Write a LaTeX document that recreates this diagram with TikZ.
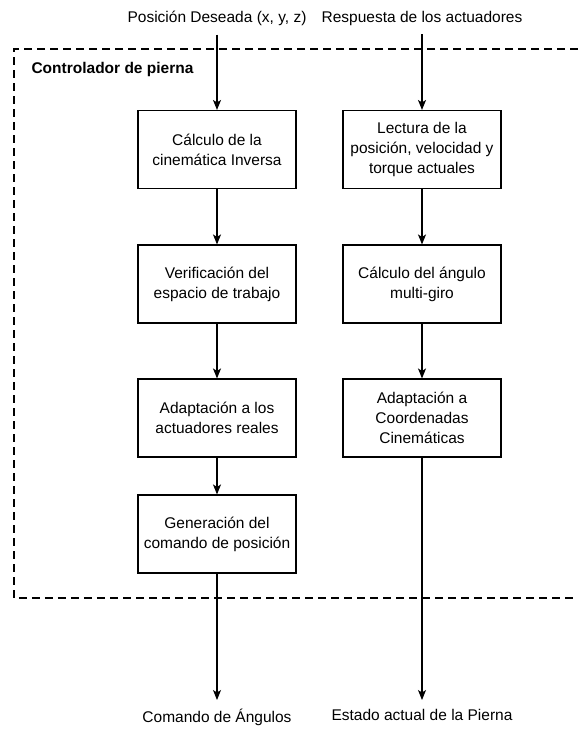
\documentclass[tikz,border=0pt]{standalone}
\usepackage{fontspec}
\setmainfont{Liberation Sans}
\usetikzlibrary{arrows.meta}

\begin{document}
\begin{tikzpicture}[x=1pt, y=-1pt,
		font=\fontsize{15.5}{20}\selectfont,
		box/.style={draw, rectangle, line width=1.1pt, minimum width=158pt, minimum height=78pt, align=center, inner sep=2pt},
		lbl/.style={inner xsep=3pt, inner ysep=9pt},
		flow/.style={->, >={Stealth[length=10pt, width=8pt, inset=2.5pt]}, line width=1.1pt},
		frame/.style={line width=1.1pt, dash pattern=on 8pt off 5pt}]
				\useasboundingbox (0, 0) rectangle (578, 729);
				% entradas
				\node[lbl] (PD)at(217, 18) {Posición Deseada (x, y, z)};
				\node[lbl] (RA)at(422, 18) {Respuesta de los actuadores};
				% controlador
				\draw[frame] (578, 49) -| (14, 598) -- (578, 598);
				\node[anchor=west, font=\fontsize{15.5}{20}\selectfont\bfseries] (CP)at(28, 69) {Controlador de pierna};
				\node[box] (CI)at(217, 149.5) {Cálculo de la\\cinemática Inversa};
				\node[box] (VE)at(217, 284) {Verificación del\\espacio de trabajo};
				\node[box] (AR)at(217, 418) {Adaptación a los\\actuadores reales};
				\node[box] (GC)at(217, 534) {Generación del\\comando de posición};
				\node[box] (LE)at(422, 149.5) {Lectura de la\\posición, velocidad y\\torque actuales};
				\node[box] (CG)at(422, 284) {Cálculo del ángulo\\multi-giro};
				\node[box] (AC)at(422, 418) {Adaptación a\\Coordenadas\\Cinemáticas};
				% salidas
				\node[lbl, anchor=north] (OA)at(217, 700) {Comando de Ángulos};
				\node[lbl, anchor=north] (EP)at(422, 700) {Estado actual de la Pierna};
				\draw[flow] (PD) -- (CI);
				\draw[flow] (CI) -- (VE);
				\draw[flow] (VE) -- (AR);
				\draw[flow] (AR) -- (GC);
				\draw[flow] (GC) -- (OA);
				\draw[flow] (RA) -- (LE);
				\draw[flow] (LE) -- (CG);
				\draw[flow] (CG) -- (AC);
				\draw[flow] (AC) -- (EP);
			\end{tikzpicture}
\end{document}
